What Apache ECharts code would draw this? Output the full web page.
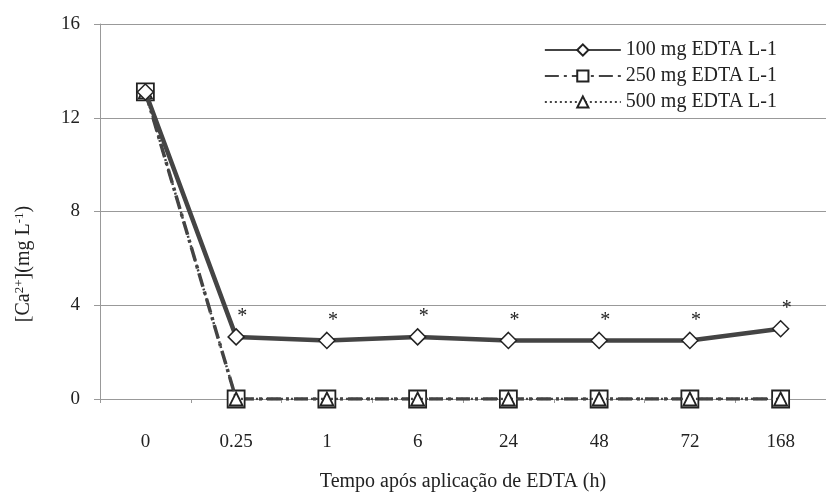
<!DOCTYPE html>
<html><head><meta charset="utf-8">
<script src="https://cdn.jsdelivr.net/npm/echarts@6/dist/echarts.min.js"></script>
<style>html,body{margin:0;padding:0;background:#fff;overflow:hidden}#c{width:826px;height:497px}</style>
</head><body><div id="c"></div>
<script>
const categories = ['0', '0.25', '1', '6', '24', '48', '72', '168'];
const s100 = [13.1, 2.65, 2.5, 2.65, 2.5, 2.5, 2.5, 3.0];
const s250 = [13.1, 0, 0, 0, 0, 0, 0, 0];
const s500 = [13.1, 0, 0, 0, 0, 0, 0, 0];
const marks100 = ['', '*', '*', '*', '*', '*', '*', '*'];
const seriesNames = ['100 mg EDTA L-1', '250 mg EDTA L-1', '500 mg EDTA L-1'];
const yTicks = [0, 4, 8, 12, 16];

const font = 'Liberation Serif';
const chart = echarts.init(document.getElementById('c'));
chart.setOption({
  animation: false,
  backgroundColor: '#fff',
  textStyle: { fontFamily: font, color: '#222' },
  grid: { left: 100, right: -10, top: 24, bottom: 93, containLabel: false },
  legend: {
    right: 44, top: 35, orient: 'vertical', itemGap: 6,
    itemWidth: 76, itemHeight: 14,
    textStyle: { fontFamily: font, fontSize: 20, color: '#222' },
    data: seriesNames
  },
  graphic: [{
    type: 'text', x: 24, y: 264, rotation: Math.PI / 2,
    style: {
      text: '{a|[Ca}{s|2+}{a|](mg L}{s|-1}{a|)}',
      align: 'center', verticalAlign: 'middle',
      rich: {
        a: { fontFamily: font, fontSize: 20, fill: '#222' },
        s: { fontFamily: font, fontSize: 13, fill: '#222', verticalAlign: 'bottom', padding: [0, 0, 9, 0] }
      }
    }
  }],
  xAxis: {
    type: 'category', data: categories, boundaryGap: true,
    axisLine: { lineStyle: { color: '#999', width: 1 } },
    axisTick: { show: true, length: 4, lineStyle: { color: '#999' } },
    axisLabel: { fontFamily: font, fontSize: 19, color: '#222', margin: 34 },
    name: 'Tempo após aplicação de EDTA (h)', nameLocation: 'middle', nameGap: 73,
    nameTextStyle: { fontFamily: font, fontSize: 20, color: '#222' }
  },
  yAxis: {
    type: 'value', min: 0, max: 16, interval: 4,
    axisLine: { show: true, lineStyle: { color: '#999' } },
    axisTick: { show: true, length: 6, lineStyle: { color: '#999' } },
    splitLine: { lineStyle: { color: '#999', width: 1 } },
    axisLabel: { fontFamily: font, fontSize: 19, color: '#222', margin: 20,
      formatter: v => yTicks.includes(v) ? String(v) : '' }
  },
  series: [
    { name: seriesNames[0], type: 'line', data: s100, z: 5,
      symbol: 'diamond', symbolSize: 16, showAllSymbol: true,
      lineStyle: { color: '#444', width: 4.5, type: 'solid' },
      itemStyle: { color: '#fff', borderColor: '#222', borderWidth: 1.5 },
      label: { show: true, position: 'top', distance: 1, offset: [6, 0], fontFamily: font, fontSize: 20, color: '#222',
        formatter: p => marks100[p.dataIndex] } },
    { name: seriesNames[1], type: 'line', data: s250, z: 3,
      symbol: 'rect', symbolSize: 17, showAllSymbol: true,
      lineStyle: { color: '#444', width: 3.5, type: [14, 5, 3, 5] },
      itemStyle: { color: '#fff', borderColor: '#222', borderWidth: 1.8 } },
    { name: seriesNames[2], type: 'line', data: s500, z: 4,
      symbol: 'triangle', symbolSize: 13, showAllSymbol: true,
      lineStyle: { color: '#444', width: 2.5, type: [2, 3] },
      itemStyle: { color: '#fff', borderColor: '#222', borderWidth: 1.8 } }
  ]
});
</script></body></html>
